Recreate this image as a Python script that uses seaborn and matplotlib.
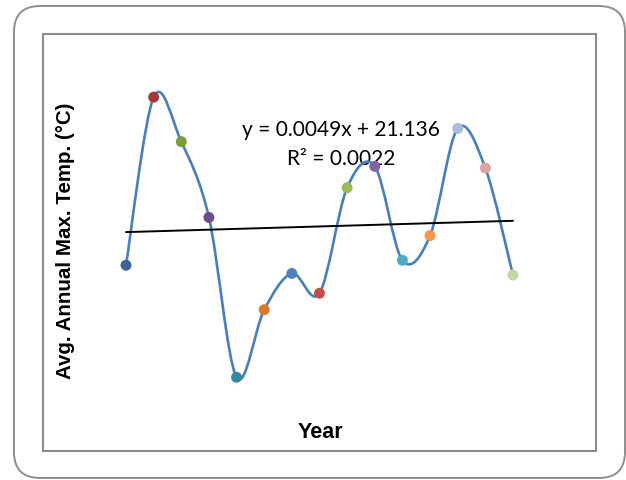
import numpy as np
import pandas as pd
import matplotlib.pyplot as plt
import seaborn as sns
from matplotlib.path import Path
from matplotlib.patches import PathPatch, FancyBboxPatch, Rectangle

# data (x = point index used by the trendline)
years = list(range(1, 16))
temps = [20.94, 21.96, 21.69, 21.23, 20.26, 20.67, 20.89, 20.77,
         21.41, 21.54, 20.97, 21.12, 21.77, 21.53, 20.88]
point_colors = ['#3d6597', '#a3383a', '#7e9a3c', '#6b4d89', '#33899e',
                '#d97b2d', '#4f81bd', '#c0504d', '#9bbb59', '#8064a2',
                '#4bacc6', '#f79646', '#a9bddc', '#dba3a1', '#c5d6a6']
slope, intercept = 0.0049, 21.136
eq_text = 'y = 0.0049x + 21.136'
r2_text = 'R² = 0.0022'

df = pd.DataFrame({'year': years, 'temp': temps})
df['label'] = df['year'].astype(str)

sns.set_theme(style='white')
plt.rcParams['font.family'] = ['Lato', 'DejaVu Sans']

fig = plt.figure(figsize=(6.26, 4.8), dpi=100)

# background frame in pixel units
bg = fig.add_axes([0, 0, 1, 1], zorder=0)
bg.set_xlim(0, 626)
bg.set_ylim(480, 0)
bg.axis('off')
bg.add_patch(FancyBboxPatch((14, 6), 611, 472, boxstyle='round,pad=0,rounding_size=26',
                            facecolor='white', edgecolor='#8e8e8e', lw=1.4))
bg.add_patch(Rectangle((43, 34), 553, 417, facecolor='none', edgecolor='#8c8c8c', lw=1.5))

ax = fig.add_axes([0.1792, 0.1248, 0.6623, 0.7552], zorder=1)
ax.set_facecolor('none')


def smooth_path(x, y):
    pts = np.column_stack([x, y]).astype(float)
    ext = np.vstack([pts[0], pts, pts[-1]])
    verts = [pts[0]]
    codes = [Path.MOVETO]
    for i in range(len(pts) - 1):
        p0, p1, p2, p3 = ext[i], ext[i + 1], ext[i + 2], ext[i + 3]
        verts += [p1 + (p2 - p0) / 6, p2 - (p3 - p1) / 6, p2]
        codes += [Path.CURVE4] * 3
    return Path(verts, codes)


ax.add_patch(PathPatch(smooth_path(df['year'], df['temp']), facecolor='none',
                       edgecolor='#4a7ebb', lw=1.9, zorder=2))

tx = [years[0], years[-1]]
ty = [intercept + slope * v for v in tx]
sns.lineplot(x=tx, y=ty, color='black', lw=1.4, ax=ax, zorder=2)

sns.scatterplot(data=df, x='year', y='temp', hue='label', palette=point_colors,
                legend=False, s=62, edgecolor='none', ax=ax, zorder=3)

ax.set_xlim(0.5, 15.5)
ax.set_ylim(20.0, 22.2)
ax.set_xticks([])
ax.set_yticks([])
ax.set_xlabel('')
ax.set_ylabel('')
for s in ax.spines.values():
    s.set_visible(False)

bg.text(341, 130, eq_text, ha='center', va='center', fontsize=15, color='black', zorder=5)
bg.text(341, 159, r2_text, ha='center', va='center', fontsize=15, color='black', zorder=5)
bg.text(66, 241, 'Avg. Annual Max. Temp. (°C)', rotation=90, ha='center', va='center',
        fontsize=14.8, fontweight='bold', color='black',
        family=['Liberation Sans', 'DejaVu Sans'])
bg.text(320, 433, 'Year', ha='center', va='center', fontsize=15.5, fontweight='bold',
        color='black', family=['Liberation Sans', 'DejaVu Sans'])

fig.savefig('out.png', dpi=100)
